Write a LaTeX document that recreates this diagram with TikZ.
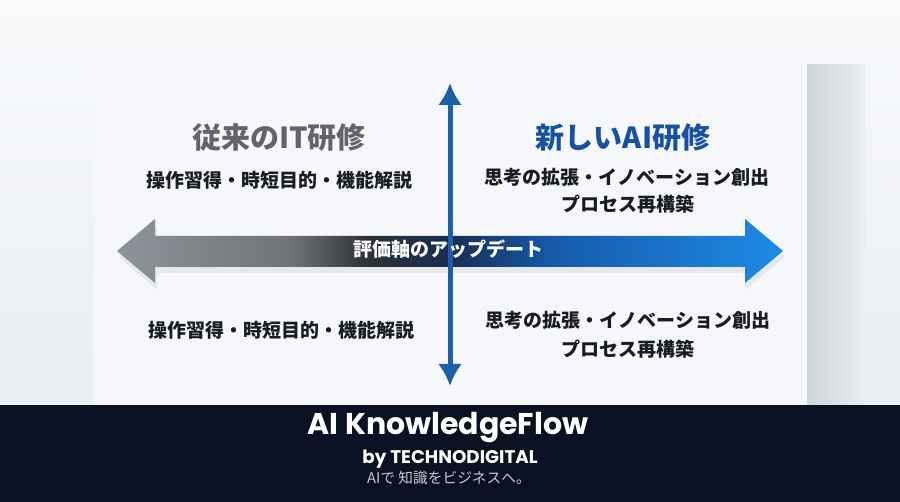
\documentclass[tikz,border=0pt]{standalone}
\usepackage{fontspec}
\usepackage{tikz}
\usetikzlibrary{arrows.meta}
\newfontfamily\jpfont{Noto Sans CJK JP}
\newfontfamily\logofont{Poppins}
\definecolor{bgtop}{RGB}{248,250,252}
\definecolor{bgbottom}{RGB}{234,237,241}
\definecolor{panelwhite}{RGB}{245,247,250}
\definecolor{panelshadow}{RGB}{208,213,219}
\definecolor{footnavy}{RGB}{9,17,34}
\definecolor{axisblue}{RGB}{29,94,166}
\definecolor{titlegray}{RGB}{98,100,104}
\definecolor{titleblue}{RGB}{22,82,160}
\definecolor{textdark}{RGB}{26,28,36}
\definecolor{taggray}{RGB}{198,202,210}
\definecolor{upgray}{RGB}{142,147,154}
\definecolor{upmid}{RGB}{112,116,120}
\definecolor{updark}{RGB}{44,48,54}
\definecolor{upnavy}{RGB}{24,46,84}
\definecolor{upblue}{RGB}{21,92,172}
\definecolor{uplight}{RGB}{30,138,230}
\pgfdeclarehorizontalshading{updateshade}{100bp}{color(0bp)=(upgray); color(25bp)=(upgray); color(38bp)=(upmid); color(44bp)=(updark); color(50bp)=(upnavy); color(58bp)=(upblue); color(75bp)=(uplight); color(100bp)=(uplight)}

\begin{document}
\begin{tikzpicture}[x=1pt, y=-1pt,
		>=Latex,
		titel/.style={font=\jpfont\bfseries\fontsize{29}{31}\selectfont},
		inhalt/.style={font=\jpfont\bfseries\fontsize{19}{21}\selectfont, text=textdark, align=center},
		achse/.style={axisblue, line width=5pt, {Latex[length=22pt,width=24pt]}-{Latex[length=22pt,width=24pt]}}]
	%Hintergrund und Bildbereich
	\useasboundingbox (0,0) rectangle (900,502);
	\shade[top color=bgtop, bottom color=bgbottom] (0,0) rectangle (900,405);
	% Karte mit Schatten
	\shade[left color=panelshadow, right color=bgbottom] (807,65) rectangle (865,405);
	\fill[panelwhite] (93,65) rectangle (807,405);
	% Fusszeile
	\fill[footnavy] (0,405) rectangle (900,502);
	% Pfeil der Bewertungsachse
	\fill[black, opacity=0.06] (119,257) -- (157,225) -- (157,242) -- (745,242) -- (745,225) -- (785,257) -- (745,290) -- (745,273) -- (157,273) -- (157,290) -- cycle;
	\shade[shading=updateshade] (117,251) -- (155,219) -- (155,236) -- (745,236) -- (745,219) -- (783,251) -- (745,283) -- (745,267) -- (155,267) -- (155,283) -- cycle;
	% senkrechte Achse
	\coordinate (oben) at (450,83);
	\coordinate (unten) at (450,386);
	\draw[achse] (oben) -- (unten);
	\node[font=\jpfont\bfseries\fontsize{19}{21}\selectfont, text=white] (update) at (448,249) {評価軸のアップデート};
	% Ueberschriften
	\node[titel, text=titlegray] (alt) at (279,138) {従来のIT研修};
	\node[titel, text=titleblue] (neu) at (623,138) {新しいAI研修};
	% Beschriftung oben
	\node[inhalt] (altoben) at (279,180) {操作習得・時短目的・機能解説};
	\node[inhalt] (neuoben) at (627,177) {思考の拡張・イノベーション創出};
	\node[inhalt] (neuoben2) at (628,204) {プロセス再構築};
	% Beschriftung unten
	\node[inhalt] (altunten) at (281,330) {操作習得・時短目的・機能解説};
	\node[inhalt] (neuunten) at (628,320) {思考の拡張・イノベーション創出};
	\node[inhalt] (neuunten2) at (628,349) {プロセス再構築};
	% Logo
	\node[font=\logofont\bfseries\fontsize{30}{32}\selectfont, text=white] (logo) at (448,428) {AI KnowledgeFlow};
	\node[font=\logofont\bfseries\fontsize{18.3}{20}\selectfont, text=white] (firma) at (450,459) {by TECHNODIGITAL};
	\node[font=\jpfont\fontsize{14.7}{16}\selectfont, text=taggray] (slogan) at (449,478) {AIで 知識をビジネスへ。};
\end{tikzpicture}
\end{document}
